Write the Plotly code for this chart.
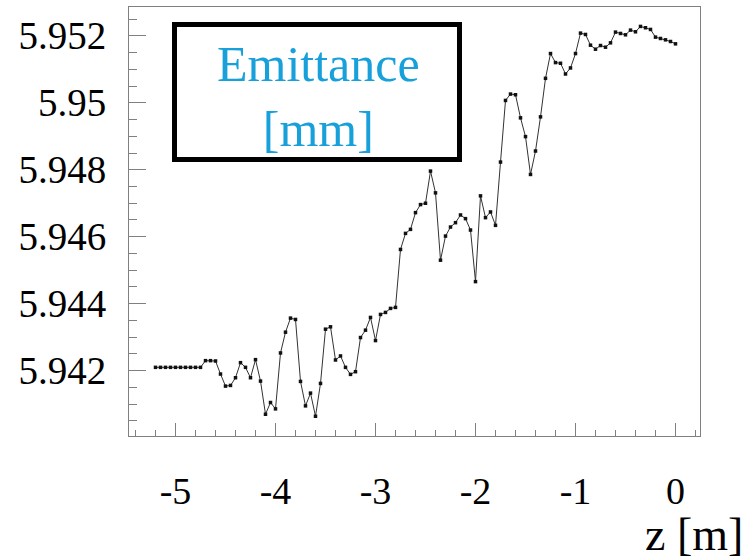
import plotly.graph_objects as go

# positions along the beamline [m]
z_m = [-5.20, -5.15, -5.10, -5.05, -5.00, -4.95, -4.90, -4.85, -4.80, -4.75,
       -4.70, -4.65, -4.60, -4.55, -4.50, -4.45, -4.40, -4.35, -4.30, -4.25,
       -4.20, -4.15, -4.10, -4.05, -4.00, -3.95, -3.90, -3.85, -3.80, -3.75,
       -3.70, -3.65, -3.60, -3.55, -3.50, -3.45, -3.40, -3.35, -3.30, -3.25,
       -3.20, -3.15, -3.10, -3.05, -3.00, -2.95, -2.90, -2.85, -2.80, -2.75,
       -2.70, -2.65, -2.60, -2.55, -2.50, -2.45, -2.40, -2.35, -2.30, -2.25,
       -2.20, -2.15, -2.10, -2.05, -2.00, -1.95, -1.90, -1.85, -1.80, -1.75,
       -1.70, -1.65, -1.60, -1.55, -1.50, -1.45, -1.40, -1.35, -1.30, -1.25,
       -1.20, -1.15, -1.10, -1.05, -1.00, -0.95, -0.90, -0.85, -0.80, -0.75,
       -0.70, -0.65, -0.60, -0.55, -0.50, -0.45, -0.40, -0.35, -0.30, -0.25,
       -0.20, -0.15, -0.10, -0.05, 0.00]

# emittance [mm]
emittance = [5.94210, 5.94210, 5.94210, 5.94210, 5.94210, 5.94210, 5.94210, 5.94210, 5.94210, 5.94210,
             5.94230, 5.94230, 5.94229, 5.94190, 5.94154, 5.94156, 5.94179, 5.94224, 5.94210, 5.94179,
             5.94233, 5.94169, 5.94070, 5.94105, 5.94086, 5.94253, 5.94315, 5.94357, 5.94353, 5.94168,
             5.94095, 5.94133, 5.94064, 5.94162, 5.94324, 5.94331, 5.94232, 5.94244, 5.94210, 5.94189,
             5.94197, 5.94299, 5.94321, 5.94359, 5.94290, 5.94368, 5.94374, 5.94386, 5.94389, 5.94562,
             5.94610, 5.94622, 5.94672, 5.94696, 5.94700, 5.94796, 5.94731, 5.94530, 5.94602, 5.94629,
             5.94642, 5.94665, 5.94654, 5.94620, 5.94466, 5.94722, 5.94657, 5.94674, 5.94634, 5.94823,
             5.95007, 5.95026, 5.95024, 5.94955, 5.94899, 5.94786, 5.94856, 5.94958, 5.95073, 5.95147,
             5.95120, 5.95118, 5.95086, 5.95104, 5.95147, 5.95208, 5.95204, 5.95172, 5.95160, 5.95171,
             5.95166, 5.95179, 5.95211, 5.95207, 5.95203, 5.95217, 5.95212, 5.95228, 5.95224, 5.95219,
             5.95196, 5.95192, 5.95188, 5.95183, 5.95176]

x_tickvals = [-5, -4, -3, -2, -1, 0]
x_ticktext = ["-5", "-4", "-3", "-2", "-1", "0"]
y_tickvals = [5.942, 5.944, 5.946, 5.948, 5.950, 5.952]
y_ticktext = ["5.942", "5.944", "5.946", "5.948", "5.95", "5.952"]

FONT = "Liberation Serif"
AXC = "#808080"

fig = go.Figure()
fig.add_trace(go.Scatter(
    x=z_m, y=emittance, mode="lines+markers",
    line=dict(color="#333333", width=1),
    marker=dict(symbol="square", size=3.5, color="#111111"),
    showlegend=False, hoverinfo="x+y"))

fig.update_layout(
    width=750, height=559,
    margin=dict(l=129, r=50, t=7, b=123),
    paper_bgcolor="white", plot_bgcolor="white",
    font=dict(family=FONT, color="black"),
    xaxis=dict(
        range=[-5.465, 0.245], showgrid=False, zeroline=False,
        showline=True, linecolor=AXC, linewidth=1, mirror=True,
        tickmode="array", tickvals=x_tickvals, ticktext=x_ticktext,
        ticks="inside", ticklen=13, tickcolor=AXC, tickwidth=1,
        tickfont=dict(family=FONT, size=38, color="black"),
        ticklabelstandoff=21,
        minor=dict(tick0=0, dtick=0.2, ticks="inside", ticklen=6,
                   tickcolor=AXC, tickwidth=1, showgrid=False),
    ),
    yaxis=dict(
        range=[5.94005, 5.95286], showgrid=False, zeroline=False,
        showline=True, linecolor=AXC, linewidth=1, mirror=True,
        tickmode="array", tickvals=y_tickvals, ticktext=y_ticktext,
        ticks="inside", ticklen=17, tickcolor=AXC, tickwidth=1,
        tickfont=dict(family=FONT, size=39, color="black"),
        ticklabelstandoff=14,
        minor=dict(tick0=5.942, dtick=0.0005, ticks="inside", ticklen=8,
                   tickcolor=AXC, tickwidth=1, showgrid=False),
    ),
)

# legend-like label box
fig.add_shape(type="rect", xref="paper", yref="paper",
              x0=0.0797, x1=0.5788, y0=0.6445, y1=0.9592,
              line=dict(color="black", width=5), fillcolor="white", layer="above")
fig.add_annotation(xref="paper", yref="paper", x=0.331, y=0.7925,
                   text="Emittance<br>[mm]", showarrow=False,
                   xanchor="center", yanchor="middle", align="center",
                   font=dict(family=FONT, size=50, color="#17a0da"))
# x-axis title
fig.add_annotation(xref="paper", yref="paper", x=1.0788, y=-0.23,
                   text="z [m]", showarrow=False, xanchor="right", yanchor="middle",
                   font=dict(family=FONT, size=46, color="black"))

fig.write_html("out.html")
